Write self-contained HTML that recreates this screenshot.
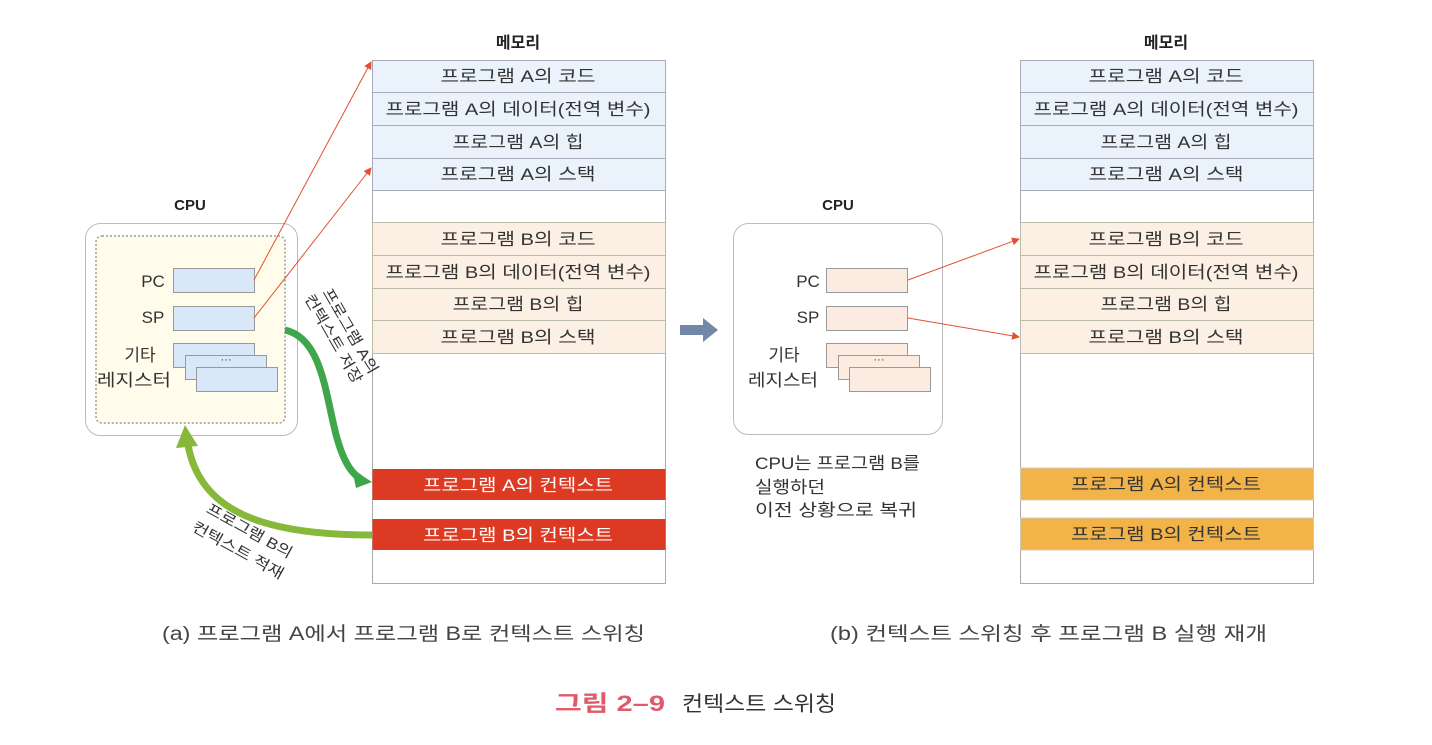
<!DOCTYPE html>
<html><head><meta charset="utf-8"><style>
body{margin:0;background:#fff;}
svg text{font-family:"Liberation Sans","Noto Sans CJK KR",sans-serif;}
</style></head><body>
<svg width="1432" height="740" viewBox="0 0 1432 740" xmlns="http://www.w3.org/2000/svg">
<defs>
<marker id="ra" markerWidth="8" markerHeight="8" refX="7" refY="4" orient="auto" markerUnits="userSpaceOnUse"><path d="M0,0 L8,4 L0,8 z" fill="#e4502e"/></marker>
</defs>
<g font-size="17" fill="#333" text-anchor="middle">
<!-- Left memory -->
<text x="518" y="48" font-weight="bold" font-size="16" fill="#222">메모리</text>
<rect x="372.5" y="60.5" width="293" height="523" fill="#fff" stroke="#aaa"/>
<g fill="#eaf3fb" stroke="#aab">
<rect x="372.5" y="60.5" width="293" height="32"/><rect x="372.5" y="92.5" width="293" height="33"/><rect x="372.5" y="125.5" width="293" height="33"/><rect x="372.5" y="158.5" width="293" height="32"/>
</g>
<g fill="#fcefe4" stroke="#bba">
<rect x="372.5" y="222.5" width="293" height="33"/><rect x="372.5" y="255.5" width="293" height="33"/><rect x="372.5" y="288.5" width="293" height="32"/><rect x="372.5" y="320.5" width="293" height="33"/>
</g>
<g lengthAdjust="spacingAndGlyphs">
<text x="518" y="82" textLength="155" lengthAdjust="spacingAndGlyphs">프로그램 A의 코드</text>
<text x="518" y="115" textLength="265" lengthAdjust="spacingAndGlyphs">프로그램 A의 데이터(전역 변수)</text>
<text x="518" y="148" textLength="131" lengthAdjust="spacingAndGlyphs">프로그램 A의 힙</text>
<text x="518" y="180" textLength="155" lengthAdjust="spacingAndGlyphs">프로그램 A의 스택</text>
<text x="518" y="245" textLength="155" lengthAdjust="spacingAndGlyphs">프로그램 B의 코드</text>
<text x="518" y="278" textLength="265" lengthAdjust="spacingAndGlyphs">프로그램 B의 데이터(전역 변수)</text>
<text x="518" y="310" textLength="131" lengthAdjust="spacingAndGlyphs">프로그램 B의 힙</text>
<text x="518" y="343" textLength="155" lengthAdjust="spacingAndGlyphs">프로그램 B의 스택</text>
</g>
<rect x="372.5" y="469" width="293" height="31" fill="#dc3a22"/>
<rect x="372.5" y="519" width="293" height="31" fill="#dc3a22"/>
<text x="518" y="491" fill="#fff" textLength="190" lengthAdjust="spacingAndGlyphs">프로그램 A의 컨텍스트</text>
<text x="518" y="541" fill="#fff" textLength="190" lengthAdjust="spacingAndGlyphs">프로그램 B의 컨텍스트</text>

<!-- Right memory -->
<text x="1166" y="48" font-weight="bold" font-size="16" fill="#222">메모리</text>
<rect x="1020.5" y="60.5" width="293" height="523" fill="#fff" stroke="#aaa"/>
<g fill="#eaf3fb" stroke="#aab">
<rect x="1020.5" y="60.5" width="293" height="32"/><rect x="1020.5" y="92.5" width="293" height="33"/><rect x="1020.5" y="125.5" width="293" height="33"/><rect x="1020.5" y="158.5" width="293" height="32"/>
</g>
<g fill="#fcefe4" stroke="#bba">
<rect x="1020.5" y="222.5" width="293" height="33"/><rect x="1020.5" y="255.5" width="293" height="33"/><rect x="1020.5" y="288.5" width="293" height="32"/><rect x="1020.5" y="320.5" width="293" height="33"/>
</g>
<text x="1166" y="82" textLength="155" lengthAdjust="spacingAndGlyphs">프로그램 A의 코드</text>
<text x="1166" y="115" textLength="265" lengthAdjust="spacingAndGlyphs">프로그램 A의 데이터(전역 변수)</text>
<text x="1166" y="148" textLength="131" lengthAdjust="spacingAndGlyphs">프로그램 A의 힙</text>
<text x="1166" y="180" textLength="155" lengthAdjust="spacingAndGlyphs">프로그램 A의 스택</text>
<text x="1166" y="245" textLength="155" lengthAdjust="spacingAndGlyphs">프로그램 B의 코드</text>
<text x="1166" y="278" textLength="265" lengthAdjust="spacingAndGlyphs">프로그램 B의 데이터(전역 변수)</text>
<text x="1166" y="310" textLength="131" lengthAdjust="spacingAndGlyphs">프로그램 B의 힙</text>
<text x="1166" y="343" textLength="155" lengthAdjust="spacingAndGlyphs">프로그램 B의 스택</text>
<rect x="1020.5" y="468" width="293" height="32" fill="#f2b349" stroke="#ccb"/>
<rect x="1020.5" y="518" width="293" height="32" fill="#f2b349" stroke="#ccb"/>
<text x="1166" y="490" textLength="190" lengthAdjust="spacingAndGlyphs">프로그램 A의 컨텍스트</text>
<text x="1166" y="540" textLength="190" lengthAdjust="spacingAndGlyphs">프로그램 B의 컨텍스트</text>

<!-- Left CPU -->
<text x="190" y="210" font-weight="bold" font-size="15" fill="#222">CPU</text>
<rect x="85.5" y="223.5" width="212" height="212" rx="15" fill="#fff" stroke="#bbb"/>
<rect x="96" y="236" width="189" height="187" rx="6" fill="#fffcec" stroke="#999" stroke-dasharray="2,2" stroke-width="1.5"/>
<text x="153" y="287">PC</text>
<text x="153" y="323">SP</text>
<text x="140" y="361">기타</text>
<text x="134" y="386" textLength="74" lengthAdjust="spacingAndGlyphs">레지스터</text>
<g fill="#d9e8f8" stroke="#999">
<rect x="173.5" y="268.5" width="81" height="24"/><rect x="173.5" y="306.5" width="81" height="24"/>
<rect x="173.5" y="343.5" width="81" height="24"/><rect x="185.5" y="355.5" width="81" height="24"/><rect x="196.5" y="367.5" width="81" height="24"/>
</g>
<text x="226" y="363" font-size="11">···</text>
<line x1="254" y1="280" x2="371" y2="62" stroke="#e4502e" stroke-width="1" marker-end="url(#ra)"/>
<line x1="254" y1="318" x2="371" y2="168" stroke="#e4502e" stroke-width="1" marker-end="url(#ra)"/>

<!-- Green arrows -->
<path d="M285,330 C330,340 325,420 345,460 Q352,474 360,478" fill="none" stroke="#3fa649" stroke-width="7"/>
<path d="M372,482 L352,469 L356,488 z" fill="#3fa649"/>
<path d="M372,535 C260,535 200,510 188,445" fill="none" stroke="#86b83a" stroke-width="7"/>
<path d="M185,425 L176,448 L198,446 z" fill="#86b83a"/>
<g text-anchor="start" font-size="15" fill="#333">
<text transform="translate(322,292) rotate(60)" textLength="96" lengthAdjust="spacingAndGlyphs">프로그램 A의</text>
<text transform="translate(304,298) rotate(60)" textLength="100" lengthAdjust="spacingAndGlyphs">컨텍스트 저장</text>
<text transform="translate(205,512) rotate(29)" textLength="96" lengthAdjust="spacingAndGlyphs">프로그램 B의</text>
<text transform="translate(191,530) rotate(29)" textLength="102" lengthAdjust="spacingAndGlyphs">컨텍스트 적재</text>
</g>

<!-- Middle arrow -->
<path d="M680,325 L703,325 L703,318 L718,330 L703,342 L703,335 L680,335 z" fill="#7387a8"/>

<!-- Right CPU -->
<text x="838" y="210" font-weight="bold" font-size="15" fill="#222">CPU</text>
<rect x="733.5" y="223.5" width="209" height="211" rx="15" fill="#fff" stroke="#bbb"/>
<text x="808" y="287">PC</text>
<text x="808" y="323">SP</text>
<text x="784" y="361">기타</text>
<text x="783" y="386" textLength="70" lengthAdjust="spacingAndGlyphs">레지스터</text>
<g fill="#fcebe0" stroke="#999">
<rect x="826.5" y="268.5" width="81" height="24"/><rect x="826.5" y="306.5" width="81" height="24"/>
<rect x="826.5" y="343.5" width="81" height="24"/><rect x="838.5" y="355.5" width="81" height="24"/><rect x="849.5" y="367.5" width="81" height="24"/>
</g>
<text x="879" y="363" font-size="11">···</text>
<line x1="908" y1="280" x2="1019" y2="239" stroke="#e4502e" marker-end="url(#ra)"/>
<line x1="908" y1="318" x2="1019" y2="337" stroke="#e4502e" marker-end="url(#ra)"/>
<g text-anchor="start" font-size="17">
<text x="755" y="469" textLength="165" lengthAdjust="spacingAndGlyphs">CPU는 프로그램 B를</text>
<text x="755" y="493" textLength="70" lengthAdjust="spacingAndGlyphs">실행하던</text>
<text x="755" y="516" textLength="162" lengthAdjust="spacingAndGlyphs">이전 상황으로 복귀</text>
</g>

<!-- Captions -->
<g text-anchor="start">
<text x="162" y="640" font-size="19" fill="#444" textLength="483" lengthAdjust="spacingAndGlyphs">(a) 프로그램 A에서 프로그램 B로 컨텍스트 스위칭</text>
<text x="830" y="640" font-size="19" fill="#444" textLength="437" lengthAdjust="spacingAndGlyphs">(b) 컨텍스트 스위칭 후 프로그램 B 실행 재개</text>
<text x="555" y="711" font-size="22" font-weight="bold" fill="#e05a6a" textLength="110" lengthAdjust="spacingAndGlyphs">그림 2–9</text>
<text x="682" y="711" font-size="21" fill="#333" textLength="154" lengthAdjust="spacingAndGlyphs">컨텍스트 스위칭</text>
</g>
</g>
</svg>
</body></html>
